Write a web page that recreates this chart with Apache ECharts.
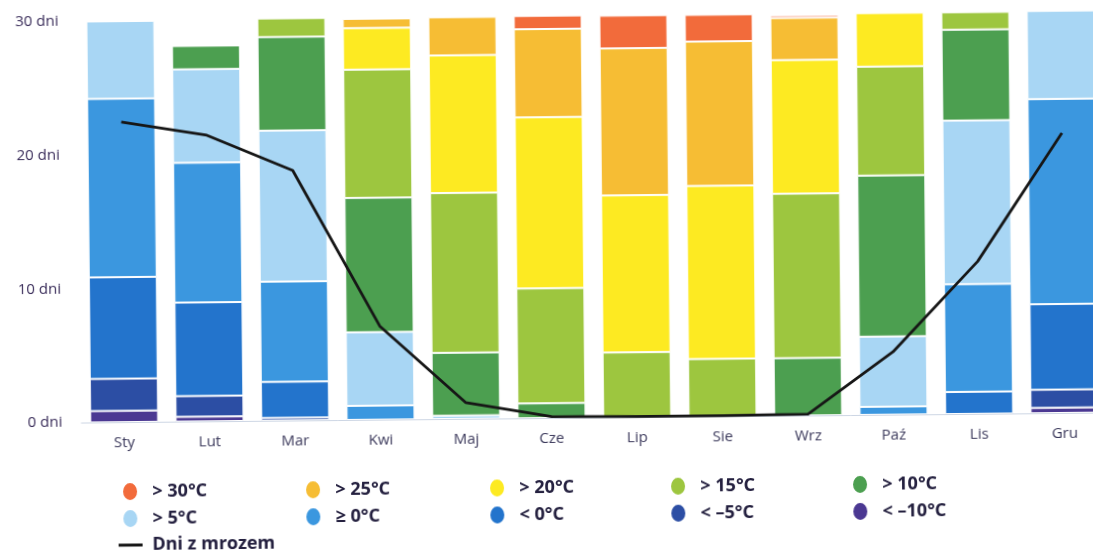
<!DOCTYPE html>
<html>
<head>
<meta charset="utf-8">
<script src="https://cdn.jsdelivr.net/npm/echarts@6/dist/echarts.min.js"></script>
<style>
html,body{margin:0;padding:0;background:#fff;overflow:hidden;width:1093px;height:551px;}
#chart{width:1120px;height:551px;transform:rotate(-0.56deg);transform-origin:546px 275px;}
</style>
</head>
<body>
<div id="chart"></div>
<script>
// Categories (months)
const months = ['Sty','Lut','Mar','Kwi','Maj','Cze','Lip','Sie','Wrz','Paź','Lis','Gru'];
// Y-axis tick values
const yTicks = [0, 10, 20, 30];

// Days per month in each temperature class (bottom to top of stack)
const ltMinus10 = [0.85, 0.35, 0, 0, 0, 0, 0, 0, 0, 0, 0, 0.4];
const ltMinus5  = [2.4, 1.55, 0.2, 0, 0, 0, 0, 0, 0, 0, 0, 1.35];
const lt0       = [7.6, 7.0, 2.7, 0, 0, 0, 0, 0, 0, 0, 1.65, 6.4];
const ge0       = [13.35, 10.45, 7.5, 1.05, 0, 0, 0, 0, 0, 0.6, 8.05, 15.35];
const gt5       = [5.8, 7.0, 11.3, 5.5, 0.25, 0, 0, 0, 0, 5.25, 12.25, 6.6];
const gt10      = [0, 1.75, 7.0, 10.05, 4.7, 1.1, 0, 0, 4.3, 12.05, 6.8, 0];
const gt15      = [0, 0, 1.4, 9.6, 11.95, 8.6, 4.85, 4.3, 12.3, 8.15, 1.3, 0];
const gt20      = [0, 0, 0, 3.1, 10.3, 12.8, 11.75, 12.95, 10.0, 4.0, 0, 0];
const gt25      = [0, 0, 0, 0.7, 2.85, 6.6, 11.0, 10.8, 3.15, 0, 0, 0];
const gt30      = [0, 0, 0, 0, 0, 1.0, 2.45, 2.0, 0.2, 0, 0, 0];
// Frost days line
const frostDays = [22.45, 21.4, 18.7, 7.0, 1.2, 0.1, 0.05, 0.05, 0.1, 4.7, 11.4, 20.95];

const classes = [
  {name:'< –10°C', data:ltMinus10, color:'#4b3892'},
  {name:'< –5°C',  data:ltMinus5,  color:'#2c4ea4'},
  {name:'< 0°C',   data:lt0,       color:'#2374cc'},
  {name:'≥ 0°C',   data:ge0,       color:'#3b97df'},
  {name:'> 5°C',   data:gt5,       color:'#a8d6f4'},
  {name:'> 10°C',  data:gt10,      color:'#4c9f50'},
  {name:'> 15°C',  data:gt15,      color:'#9dc63f'},
  {name:'> 20°C',  data:gt20,      color:'#fdea22'},
  {name:'> 25°C',  data:gt25,      color:'#f6bd34'},
  {name:'> 30°C',  data:gt30,      color:'#f26b3b'}
];
const lineName = 'Dni z mrozem';

const series = classes.map(c => ({
  name: c.name,
  type: 'bar',
  stack: 'days',
  barWidth: 68,
  clip: false,
  data: c.data.map(v => v === 0 ? '-' : v),
  itemStyle: {color: c.color, borderColor: '#ffffff', borderWidth: 1},
  emphasis: {disabled: true}
}));
series.push({
  name: lineName,
  type: 'line',
  data: frostDays,
  symbol: 'none',
  smooth: false,
  z: 10,
  color: '#161616',
  lineStyle: {color: '#161616', width: 2.8}
});

const ellipse = 'path://M0,9.5a8,9.5 0 1,0 16,0a8,9.5 0 1,0 -16,0';
const legendTxt = {fontFamily:'Open Sans', fontSize:18, fontWeight:'bold', color:'#24203f'};
// legend layout: [name, left, top]
const legendLayout = [
  ['> 30°C', 119, 477], ['> 25°C', 302, 477], ['> 20°C', 486, 477], ['> 15°C', 667, 477], ['> 10°C', 849, 477],
  ['> 5°C', 119, 504], ['≥ 0°C', 302, 504], ['< 0°C', 486, 504], ['< –5°C', 667, 504], ['< –10°C', 849, 504]
];
const legends = legendLayout.map(([n, l, t]) => ({
  data: [{name: n, icon: ellipse}],
  left: l, top: t, itemWidth: 16, itemHeight: 19, padding: 0,
  selectedMode: false, formatter: '  {name}', textStyle: legendTxt
}));
legends.push({
  data: [{name: lineName, icon: 'rect'}],
  left: 116, top: 532, itemWidth: 24, itemHeight: 3, padding: 0,
  selectedMode: false, formatter: ' {name}', textStyle: legendTxt
});

const chart = echarts.init(document.getElementById('chart'), null, {renderer:'canvas'});
chart.setOption({
  backgroundColor: '#ffffff',
  animation: false,
  legend: legends,
  grid: {left: 80, top: 17, width: 1026, height: 401, containLabel: false},
  xAxis: {
    type: 'category',
    data: months,
    axisLine: {show: true, lineStyle: {color: '#cdd6e4', width: 1}},
    axisTick: {show: false},
    axisLabel: {margin: 13, fontFamily: 'Open Sans', fontSize: 15, color: '#3c3a5c'}
  },
  yAxis: {
    type: 'value',
    min: yTicks[0], max: yTicks[yTicks.length - 1], interval: yTicks[1] - yTicks[0],
    axisLine: {show: false},
    axisTick: {show: false},
    splitLine: {show: false},
    axisLabel: {margin: 19, fontFamily: 'Open Sans', fontSize: 15, color: '#3a2d5a', formatter: '{value} dni'}
  },
  series: series
});
</script>
</body>
</html>
